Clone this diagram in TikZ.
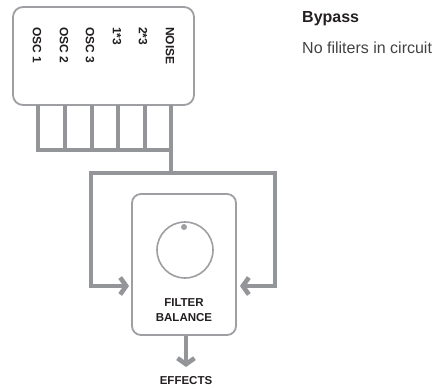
\documentclass[tikz,border=0pt]{standalone}
\usepackage{fontspec}
\setmainfont{Liberation Sans}
\usetikzlibrary{arrows.meta}
\definecolor{wire}{HTML}{939598}
\definecolor{frame}{HTML}{9D9FA2}
\definecolor{ink}{HTML}{231F20}
\begin{document}
\begin{tikzpicture}[x=1pt,y=-1pt,
  panel/.style={draw=frame,line width=1.8pt,rounded corners=10pt,fill=white,inner sep=0pt},
  wireline/.style={draw=wire,line width=4.6pt},
  arrowline/.style={wireline,-{Straight Barb[length=6pt,width=17pt]}},
  vlabel/.style={rotate=-90,anchor=west,font=\bfseries\fontsize{12}{13}\selectfont,text=ink,inner sep=0pt},
  hlabel/.style={font=\bfseries\fontsize{11.5}{14}\selectfont,text=ink,inner sep=0pt,align=center}]
\useasboundingbox (0,0) rectangle (446,389);
% top source box
\node[panel,minimum width=181pt,minimum height=98pt] (src) at (103.5,56) {};
\node[vlabel] (l1) at (37,27) {OSC 1};
\node[vlabel] (l2) at (64,27) {OSC 2};
\node[vlabel] (l3) at (90,27) {OSC 3};
\node[vlabel] (l4) at (117,27) {1*3};
\node[vlabel] (l5) at (143,27) {2*3};
\node[vlabel] (l6) at (170,27) {NOISE};
% bus
\foreach \i/\x in {1/38,2/65,3/92,4/118,5/145,6/171}{
  \coordinate (t\i) at (\x,105);
  \coordinate (b\i) at (\x,150);
}
\foreach \i in {1,...,6}{\draw[wireline] (t\i) -- (b\i);}
\draw[wireline,line cap=rect] (b1) -- (b6);
\coordinate (split) at (171,173);
\coordinate (sl) at (91,173);
\coordinate (sr) at (275,173);
\draw[wireline] (b6) -- (split);
% filter box
\node[panel,rounded corners=9pt,minimum width=104pt,minimum height=141pt] (fb) at (184,264.5) {};
\node[draw=frame,line width=1.6pt,circle,minimum size=56pt,inner sep=0pt] (knob) at (185,250) {};
\node[fill=frame,circle,minimum size=6pt,inner sep=0pt] (dot) at (184,227) {};
\node[hlabel] (fl) at (184,310) {FILTER\\[1pt]BALANCE};
\coordinate (al) at (91,286);
\coordinate (ar) at (275,286);
\coordinate (tl) at (129,286);
\coordinate (tr) at (240,286);
\draw[wireline,line join=miter] (al) |- (sl) -- (sr) -- (ar);
\draw[arrowline,line join=miter] (sl) -- (al) -- (tl);
\draw[arrowline,line join=miter] (sr) -- (ar) -- (tr);
\coordinate (td) at (186,367);
\draw[arrowline] (fb.south -| td) -- (td);
\node[hlabel] (eff) at (186,381) {EFFECTS};
% side text
\node[anchor=base west,font=\bfseries\fontsize{16}{18}\selectfont,text=ink,inner sep=0pt] (title) at (302,22) {Bypass};
\node[anchor=base west,font=\fontsize{16}{18}\selectfont,text=ink!85,inner sep=0pt] (desc) at (302,53) {No filiters in circuit};
\end{tikzpicture}
\end{document}
